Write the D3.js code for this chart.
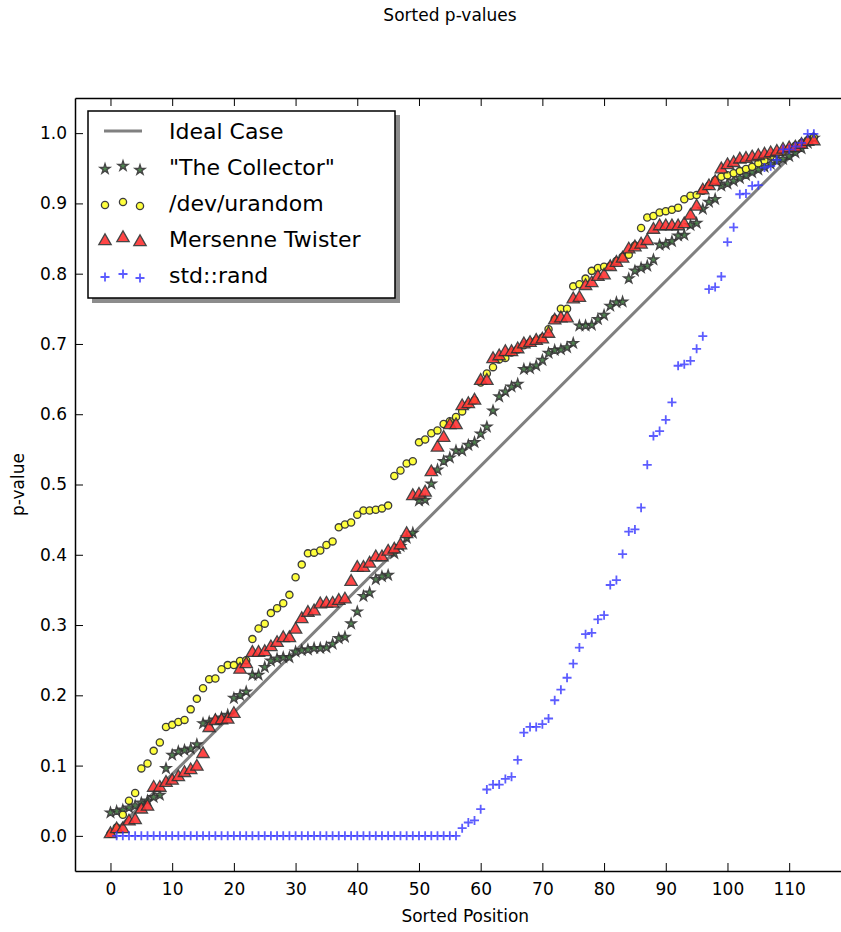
<!DOCTYPE html>
<html>
<head>
<meta charset="utf-8">
<script src="https://d3js.org/d3.v7.min.js"></script>
<style>
body { margin: 0; background: #fff; }
svg { display: block; font-family: "DejaVu Sans", sans-serif; }
</style>
</head>
<body>
<div id="chart"></div>
<script>
// sorted p-values, one entry per sorted position (0..114)
var collector = [0.033,0.035,0.037,0.040,0.043,0.047,0.050,0.055,0.058,0.096,
	0.115,0.120,0.122,0.124,0.130,0.160,0.162,0.165,0.168,0.172,
	0.196,0.200,0.205,0.229,0.229,0.240,0.249,0.252,0.254,0.254,
	0.262,0.264,0.265,0.267,0.267,0.268,0.273,0.281,0.283,0.302,
	0.319,0.341,0.346,0.365,0.369,0.371,0.402,0.412,0.424,0.431,
	0.477,0.478,0.501,0.521,0.533,0.538,0.548,0.548,0.556,0.560,
	0.572,0.582,0.605,0.625,0.632,0.639,0.643,0.664,0.665,0.669,
	0.677,0.687,0.691,0.692,0.695,0.701,0.726,0.726,0.727,0.735,
	0.741,0.754,0.759,0.760,0.793,0.804,0.808,0.811,0.820,0.841,
	0.842,0.846,0.854,0.855,0.869,0.872,0.892,0.902,0.906,0.925,
	0.928,0.932,0.936,0.940,0.944,0.948,0.952,0.956,0.960,0.963,
	0.967,0.972,0.978,0.986,0.993];

var urandom = [0.003,0.012,0.030,0.050,0.061,0.096,0.103,0.121,0.133,0.155,
	0.158,0.162,0.165,0.180,0.195,0.210,0.223,0.224,0.237,0.243,
	0.243,0.249,0.250,0.280,0.295,0.302,0.317,0.324,0.331,0.343,
	0.368,0.386,0.402,0.403,0.406,0.414,0.419,0.439,0.443,0.446,
	0.457,0.463,0.463,0.464,0.466,0.470,0.512,0.520,0.530,0.533,
	0.560,0.564,0.573,0.577,0.586,0.590,0.596,0.604,0.614,0.620,
	0.645,0.658,0.667,0.678,0.680,0.688,0.692,0.698,0.702,0.705,
	0.709,0.721,0.736,0.750,0.750,0.782,0.785,0.793,0.804,0.808,
	0.810,0.811,0.818,0.824,0.827,0.840,0.865,0.880,0.882,0.887,
	0.889,0.891,0.894,0.906,0.911,0.912,0.918,0.925,0.933,0.938,
	0.940,0.943,0.946,0.949,0.952,0.957,0.961,0.967,0.971,0.974,
	0.978,0.982,0.986,0.990,0.994];

var mersenne = [0.004,0.011,0.011,0.022,0.024,0.039,0.043,0.070,0.070,0.077,
	0.080,0.085,0.091,0.095,0.100,0.118,0.155,0.165,0.166,0.167,
	0.175,0.238,0.246,0.262,0.262,0.263,0.270,0.276,0.283,0.283,
	0.295,0.310,0.319,0.321,0.331,0.332,0.332,0.336,0.338,0.363,
	0.383,0.383,0.389,0.398,0.398,0.406,0.409,0.415,0.431,0.485,
	0.487,0.490,0.519,0.554,0.568,0.586,0.586,0.613,0.616,0.621,
	0.649,0.649,0.680,0.684,0.690,0.690,0.694,0.701,0.703,0.706,
	0.708,0.716,0.735,0.738,0.738,0.765,0.767,0.784,0.788,0.797,
	0.799,0.811,0.817,0.823,0.836,0.839,0.843,0.848,0.864,0.869,
	0.869,0.869,0.869,0.872,0.884,0.897,0.920,0.926,0.932,0.950,
	0.956,0.959,0.964,0.965,0.967,0.969,0.971,0.973,0.975,0.978,
	0.980,0.981,0.985,0.989,0.990];

// std::rand starts at sorted position 1 (nothing is drawn at 0)
var stdRandStart = 1;
var stdRand = [0,0,0,0,0,0,0,0,0,0,
	0,0,0,0,0,0,0,0,0,0,
	0,0,0,0,0,0,0,0,0,0,
	0,0,0,0,0,0,0,0,0,0,
	0,0,0,0,0,0,0,0,0,0,
	0,0,0,0,0,0,0.011,0.019,0.022,
	0.038,0.066,0.073,0.073,0.081,0.084,0.108,0.147,0.155,0.155,
	0.159,0.167,0.193,0.208,0.225,0.245,0.268,0.287,0.289,0.308,
	0.314,0.357,0.364,0.401,0.433,0.436,0.467,0.528,0.569,0.576,
	0.592,0.617,0.669,0.671,0.676,0.693,0.711,0.778,0.781,0.796,
	0.845,0.866,0.913,0.914,0.925,0.926,0.951,0.953,0.962,0.977,
	0.977,0.981,0.986,0.999,0.999];

// ideal case: straight line from first to last sorted position
var idealX = [0, 114],
	idealY = [0, 1];

var xTicks = [0,10,20,30,40,50,60,70,80,90,100,110],
	yTicks = [0,0.1,0.2,0.3,0.4,0.5,0.6,0.7,0.8,0.9,1.0];

var seriesNames = ["Ideal Case", "\"The Collector\"", "/dev/urandom", "Mersenne Twister", "std::rand"];

var width = 841, height = 932,
	plotLeft = 75, plotRight = 855.5, plotTop = 98, plotBottom = 871;

var svg = d3.select("#chart").append("svg").attr("width", width).attr("height", height);

var x = d3.scaleLinear().domain([-5.75, 120.75]).range([plotLeft, plotRight]);
var y = d3.scaleLinear().domain([-0.05, 1.05]).range([plotBottom, plotTop]);

//title
svg.append("text").attr("x", 450).attr("y", 21).attr("text-anchor", "middle")
	.style("font-size", "17px").text("Sorted p-values");

var plot = svg.append("g");
svg.append("clipPath").attr("id", "clip").append("rect")
	.attr("x", plotLeft).attr("y", plotTop).attr("width", plotRight - plotLeft).attr("height", plotBottom - plotTop);
plot.attr("clip-path", "url(#clip)");

//ideal line
plot.append("line")
	.attr("x1", x(idealX[0])).attr("y1", y(idealY[0]))
	.attr("x2", x(idealX[1])).attr("y2", y(idealY[1]))
	.attr("stroke", "#808080").attr("stroke-width", 3);

var starPath = d3.symbol().type(d3.symbolStar).size(30)(),
	triPath = d3.symbol().type(d3.symbolTriangle).size(66)(),
	plusPath = "M-4.5,0H4.5M0,-4.5V4.5";

//marker styles, reused in the legend
function drawStar(sel) {
	sel.attr("d", starPath).attr("fill", "#3d7a3d").attr("stroke", "#333").attr("stroke-width", 1.4).attr("opacity", 0.9);
}
function drawCircle(sel) {
	sel.attr("r", 3.6).attr("fill", "#ffff33").attr("stroke", "#333").attr("stroke-width", 1.3).attr("opacity", 0.95);
}
function drawTri(sel) {
	sel.attr("d", triPath).attr("fill", "#ff3333").attr("stroke", "#333").attr("stroke-width", 1.3).attr("opacity", 0.9);
}
function drawPlus(sel) {
	sel.attr("d", plusPath).attr("fill", "none").attr("stroke", "#3333ff").attr("stroke-width", 1.8).attr("opacity", 0.8);
}

plot.append("g").selectAll("path").data(collector).enter().append("path")
	.attr("transform", function(d, i) { return "translate(" + x(i) + "," + y(d) + ")"; })
	.call(drawStar);

plot.append("g").selectAll("circle").data(urandom).enter().append("circle")
	.attr("cx", function(d, i) { return x(i); })
	.attr("cy", function(d) { return y(d); })
	.call(drawCircle);

plot.append("g").selectAll("path").data(mersenne).enter().append("path")
	.attr("transform", function(d, i) { return "translate(" + x(i) + "," + (y(d) + 1) + ")"; })
	.call(drawTri);

plot.append("g").selectAll("path").data(stdRand).enter().append("path")
	.attr("transform", function(d, i) { return "translate(" + x(i + stdRandStart) + "," + y(d) + ")"; })
	.call(drawPlus);

//axes, classic style: ticks pointing inward on every side
var xAxis = d3.axisBottom(x).tickValues(xTicks).tickSizeInner(-8).tickSizeOuter(0).tickPadding(12).tickFormat(d3.format("d"));
var yAxis = d3.axisLeft(y).tickValues(yTicks).tickSizeInner(-8).tickSizeOuter(0).tickPadding(8).tickFormat(d3.format(".1f"));

svg.append("g").attr("transform", "translate(0," + plotBottom + ")").call(xAxis);
svg.append("g").attr("transform", "translate(" + plotLeft + ",0)").call(yAxis);
svg.append("g").attr("transform", "translate(0," + plotTop + ")")
	.call(d3.axisTop(x).tickValues(xTicks).tickSizeInner(-8).tickSizeOuter(0).tickFormat(""));
svg.append("g").attr("transform", "translate(" + plotRight + ",0)")
	.call(d3.axisRight(y).tickValues(yTicks).tickSizeInner(-8).tickSizeOuter(0).tickFormat(""));

svg.selectAll(".domain").attr("stroke", "#000").attr("stroke-width", 1.5);
svg.selectAll(".tick line").attr("stroke", "#000").attr("stroke-width", 1);
svg.selectAll(".tick text").attr("fill", "#000").style("font-size", "17px").style("font-family", "DejaVu Sans, sans-serif");

//axis labels
svg.append("text").attr("x", (plotLeft + plotRight) / 2).attr("y", 922).attr("text-anchor", "middle")
	.style("font-size", "17px").text("Sorted Position");
svg.append("text").attr("transform", "translate(24," + (plotTop + plotBottom) / 2 + ") rotate(-90)")
	.attr("text-anchor", "middle").style("font-size", "17px").text("p-value");

//legend with drop shadow
var legend = svg.append("g");
legend.append("rect").attr("x", 92).attr("y", 115).attr("width", 308).attr("height", 188).attr("fill", "#8c8c8c");
legend.append("rect").attr("x", 88).attr("y", 111).attr("width", 307).attr("height", 187)
	.attr("fill", "#fff").attr("stroke", "#000").attr("stroke-width", 1.5);

var rowY = [131, 167, 203, 239, 275],
	markX = [105, 123, 140],
	markDy = [2, -1, 3];

legend.append("line").attr("x1", 104).attr("x2", 142).attr("y1", rowY[0]).attr("y2", rowY[0])
	.attr("stroke", "#808080").attr("stroke-width", 3);

legend.selectAll("path.lstar").data(markX).enter().append("path").attr("class", "lstar")
	.attr("transform", function(d, i) { return "translate(" + d + "," + (rowY[1] + markDy[i]) + ")"; }).call(drawStar);
legend.selectAll("circle").data(markX).enter().append("circle")
	.attr("cx", function(d) { return d; }).attr("cy", function(d, i) { return rowY[2] + markDy[i]; }).call(drawCircle);
legend.selectAll("path.ltri").data(markX).enter().append("path").attr("class", "ltri")
	.attr("transform", function(d, i) { return "translate(" + d + "," + (rowY[3] + markDy[i]) + ")"; }).call(drawTri);
legend.selectAll("path.lplus").data(markX).enter().append("path").attr("class", "lplus")
	.attr("transform", function(d, i) { return "translate(" + d + "," + (rowY[4] + markDy[i]) + ")"; }).call(drawPlus);

legend.selectAll("text").data(seriesNames).enter().append("text")
	.attr("x", 169).attr("y", function(d, i) { return rowY[i] + 8; })
	.style("font-size", "22px").text(function(d) { return d; });
</script>
</body>
</html>
